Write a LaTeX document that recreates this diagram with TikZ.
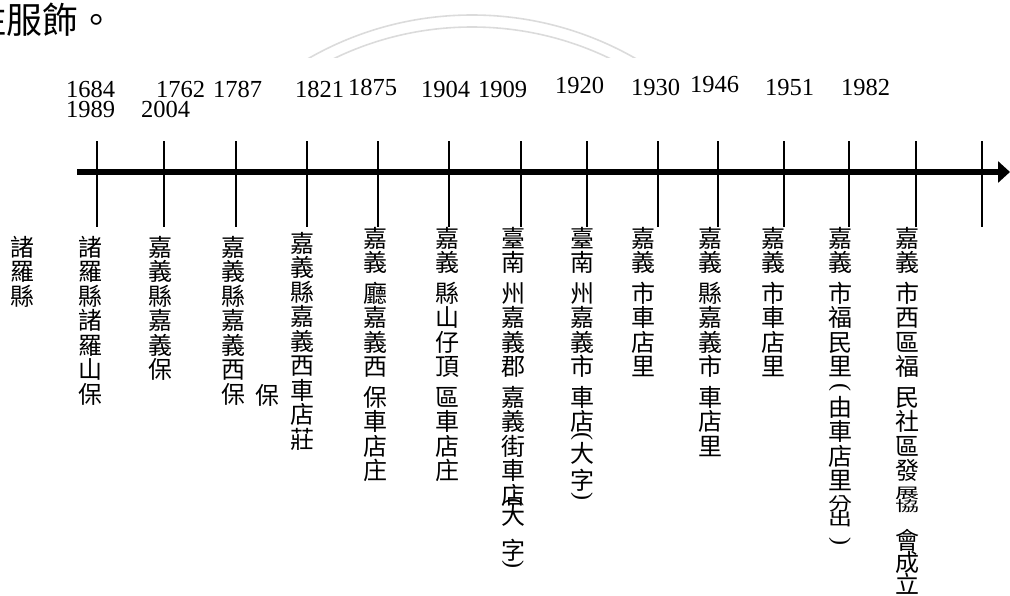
\documentclass[tikz,border=0pt]{standalone}
\usepackage{graphicx}
\usepackage{fontspec}
\setmainfont{Liberation Serif}
\newfontfamily\cjkfont{Noto Sans CJK TC}
\usetikzlibrary{arrows.meta}

\begin{document}
\begin{tikzpicture}[
    x=1pt, y=-1pt,
    % Axis and tick marks
    axis/.style={line width=6pt, -{Triangle[length=12pt,width=21pt]}},
    tickline/.style={line width=2.4pt},
    % Labels
    year/.style={anchor=base west, inner sep=0, font=\fontsize{24.5}{24.5}\selectfont},
    vlabel/.style={anchor=north, align=center, inner sep=0,
                   font=\cjkfont\fontsize{24}{24.5}\selectfont},
    paren/.style={inner sep=0, font=\fontsize{24}{24}\selectfont},
    % Faint logo seen through the page
    wmark/.style={black!14, line width=1.6pt}
]
\useasboundingbox (0,0) rectangle (1010,595);

% ==========================================
% TOP: TEXT LINE AND FAINT LOGO
% ==========================================
\node[anchor=base west, inner sep=0, font=\cjkfont\fontsize{36}{36}\selectfont] (head) at (-30,33) {住服飾。};

\begin{scope}
    \clip (250,0) rectangle (700,57);
    \draw[wmark] (472,344) circle (329);
    \draw[wmark] (472,344) circle (317);
\end{scope}

% ==========================================
% AXIS WITH TICKS
% ==========================================
\coordinate (axL) at (77,172);
\coordinate (axR) at (1010,172);
\draw[axis] (axL) -- (axR);

\foreach \x [count=\i] in {97,164,236,307,378,449,521,587,658,718,784,849,916,982} {
    \coordinate (t\i a) at (\x,141);
    \coordinate (t\i b) at (\x,227);
    \draw[tickline] (t\i a) -- (t\i b);
}

% ==========================================
% YEARS (above the axis)
% ==========================================
\node[year] (y1684) at (66,97) {1684};
\node[year] (y1989) at (66,117) {1989};
\node[year] (y1762) at (156,97) {1762};
\node[year] (y2004) at (141,117) {2004};
\node[year] (y1787) at (213,97) {1787};
\node[year] (y1821) at (295,97) {1821};
\node[year] (y1875) at (348,95) {1875};
\node[year] (y1904) at (421,97) {1904};
\node[year] (y1909) at (478,97) {1909};
\node[year] (y1920) at (555,93) {1920};
\node[year] (y1930) at (631,95) {1930};
\node[year] (y1946) at (690,92) {1946};
\node[year] (y1951) at (765,95) {1951};
\node[year] (y1982) at (841,95) {1982};

% ==========================================
% PLACE NAMES (vertical, below the axis)
% ==========================================
\node[vlabel] (c1) at (22,236) {諸\\羅\\縣};
\node[vlabel] (c2) at (90,236) {諸\\羅\\縣\\諸\\羅\\山\\保};
\node[vlabel] (c3) at (160,236) {嘉\\義\\縣\\嘉\\義\\保};
\node[vlabel] (c4) at (233,236) {嘉\\義\\縣\\嘉\\義\\西\\保};
\node[vlabel] (c5) at (267,384) {保};
\node[vlabel] (c6) at (302,232) {嘉\\義\\縣\\嘉\\義\\西\\車\\店\\莊};
\node[vlabel] (c7) at (375,227) {嘉\\義\\[6pt]廳\\嘉\\義\\西\\[6pt]保\\車\\店\\庄};
\node[vlabel] (c8) at (447,227) {嘉\\義\\[6pt]縣\\山\\仔\\頂\\[6pt]區\\車\\店\\庄};
\node[vlabel] (c9) at (513,227) {臺\\南\\[6pt]州\\嘉\\義\\郡\\[6pt]嘉\\義\\街\\車\\店\\[-4.5pt]大\\[10.5pt]字};
\node[paren] (c9o) at (513,503) {\rotatebox[origin=c]{-90}{(}};
\node[paren] (c9c) at (513,565) {\rotatebox[origin=c]{-90}{)}};
\node[vlabel] (c10) at (582,227) {臺\\南\\[6pt]州\\嘉\\義\\市\\[6pt]車\\店\\[7pt]大\\[2.5pt]字};
\node[paren] (c10o) at (582,437) {\rotatebox[origin=c]{-90}{(}};
\node[paren] (c10c) at (582,497) {\rotatebox[origin=c]{-90}{)}};
\node[vlabel] (c11) at (643,227) {嘉\\義\\[6pt]市\\車\\店\\里};
\node[vlabel] (c12) at (710,227) {嘉\\義\\[6pt]縣\\嘉\\義\\市\\[6pt]車\\店\\里};
\node[vlabel] (c13) at (773,227) {嘉\\義\\[6pt]市\\車\\店\\里};
\node[vlabel] (c14) at (840,227) {嘉\\義\\[6pt]市\\福\\民\\里\\[16pt]由\\車\\店\\里\\[-4pt]\scalebox{1}[0.75]{分}\\[-9.5pt]\scalebox{1}[0.75]{出}};
\node[paren] (c14o) at (840,388) {\rotatebox[origin=c]{-90}{(}};
\node[paren] (c14c) at (840,542) {\rotatebox[origin=c]{-90}{)}};
\node[vlabel] (c15) at (907,227) {嘉\\義\\[6pt]市\\西\\區\\福\\[6pt]民\\社\\區\\發\\[-6pt]\scalebox{1}[0.6]{展}\\[-11.5pt]\scalebox{1}[0.6]{協}\\[13.5pt]會\\[-2.5pt]成\\[-2.5pt]立};

\end{tikzpicture}
\end{document}
